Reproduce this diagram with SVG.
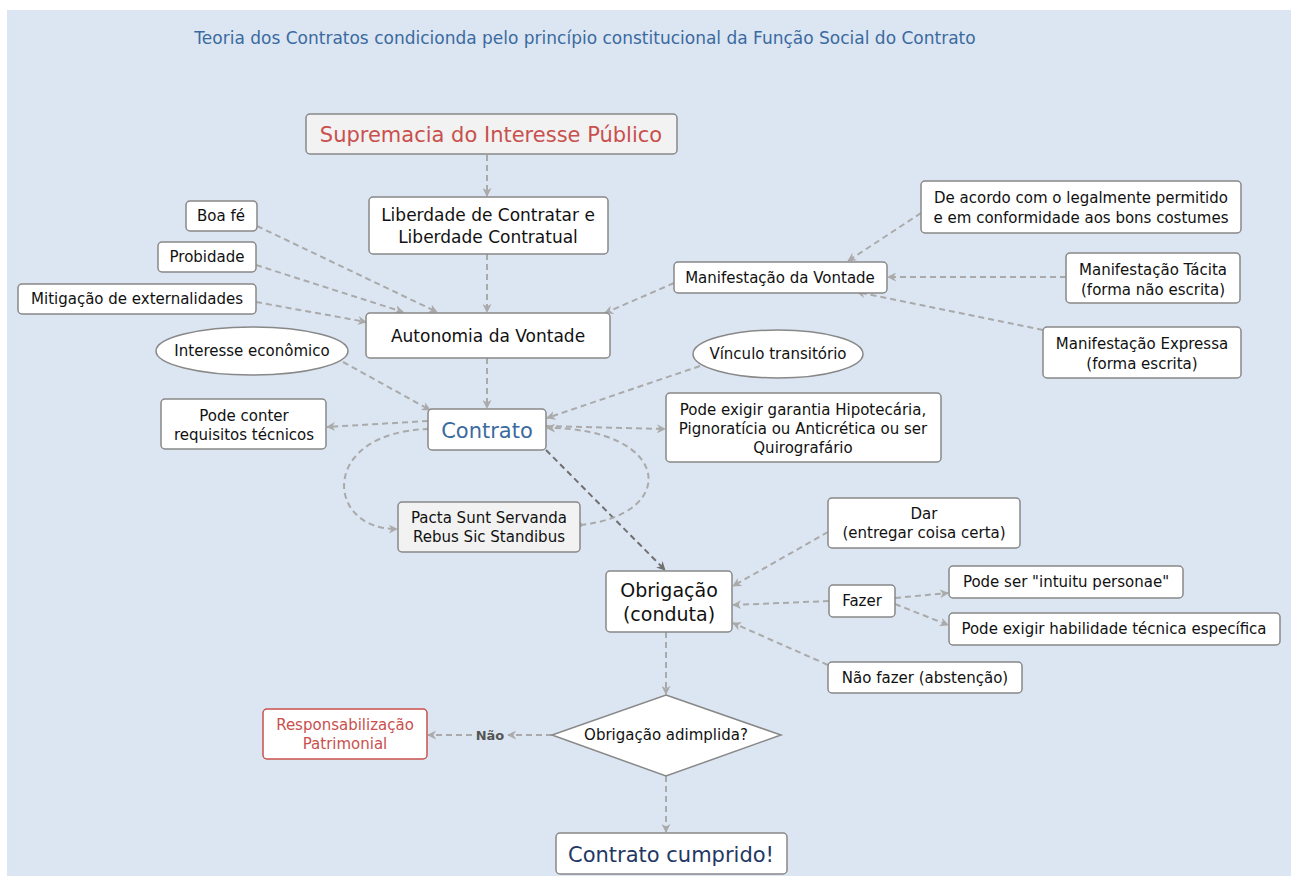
<svg xmlns="http://www.w3.org/2000/svg" width="1291" height="876" viewBox="0 0 1291 876">
<defs>
<marker id="ah" viewBox="0 0 10 10" refX="9" refY="5" markerWidth="9" markerHeight="9" markerUnits="userSpaceOnUse" orient="auto">
<path d="M0,0 L10,5 L0,10 L3,5 z" fill="#aaaaaa"/>
</marker>
<marker id="ahd" viewBox="0 0 10 10" refX="9" refY="5" markerWidth="9" markerHeight="9" markerUnits="userSpaceOnUse" orient="auto">
<path d="M0,0 L10,5 L0,10 L3,5 z" fill="#707070"/>
</marker>
<marker id="dot" viewBox="0 0 10 10" refX="5" refY="5" markerWidth="6" markerHeight="6" markerUnits="userSpaceOnUse">
<circle cx="5" cy="5" r="4" fill="#aaaaaa"/>
</marker>
<style>
text{font-family:"DejaVu Sans",Verdana,sans-serif;text-anchor:middle;fill:#111}
.n{fill:#fff;stroke:#888;stroke-width:1.5}
.g{fill:#f2f2f2;stroke:#888;stroke-width:1.5}
.e{stroke:#aaaaaa;stroke-width:2;stroke-dasharray:6,4;fill:none;marker-end:url(#ah)}
.t15{font-size:15px}
.t17{font-size:17px}
</style>
</defs>
<rect x="7" y="10" width="1284" height="866" fill="#dce6f2"/>
<text x="585" y="44" style="font-size:17px;fill:#3a6aa0">Teoria dos Contratos condicionda pelo princípio constitucional da Função Social do Contrato</text>

<g id="connectors">
<path class="e" d="M487,155 L487,196"/>
<path class="e" d="M487,254 L487,312"/>
<path class="e" d="M257,226 L437,312"/>
<path class="e" d="M256,265 L403,312"/>
<path class="e" d="M256,302 L366,322"/>
<path class="e" d="M674,283 L605,313"/>
<path class="e" d="M921,213 L848,261"/>
<path class="e" d="M1066,277 L888,277"/>
<path class="e" d="M1043,330 L857,292"/>
<path class="e" d="M487,358 L487,408"/>
<path class="e" d="M343,362 L430,410"/>
<path class="e" d="M700,366 L547,418"/>
<path class="e" d="M428,421 L327,427"/>
<path class="e" d="M546,426 L665,429"/>
<path d="M546,450 L665,570" style="stroke:#707070;stroke-width:2;stroke-dasharray:6,4;fill:none;marker-end:url(#ahd)"/>
<path class="e" style="marker-start:url(#dot)" d="M429,429 C 318,432 325,530 397,529"/>
<path class="e" style="marker-start:url(#dot)" d="M580,525 C 680,515 672,428 547,428"/>
<path class="e" d="M828,532 L733,586"/>
<path class="e" d="M829,601 L733,605"/>
<path class="e" d="M895,598 L948,593"/>
<path class="e" d="M895,604 L948,625"/>
<path class="e" d="M828,665 L733,623"/>
<path class="e" d="M666,632 L666,694"/>
<path class="e" d="M552,735 L508,735"/>
<path class="e" d="M472,735 L428,735"/>
<text x="490" y="740" style="font-size:13px;font-weight:bold;fill:#555">Não</text>
<path class="e" d="M666,776 L666,832"/>
</g>

<g id="supremacia"><rect class="g" x="306" y="114" width="371" height="40" rx="4"/><text x="491" y="142" style="font-size:21px;fill:#c9504d">Supremacia do Interesse Público</text></g>
<g id="liberdade"><rect class="n" x="369" y="197" width="239" height="57" rx="4"/><text x="488" y="221" class="t17">Liberdade de Contratar e</text><text x="488" y="243" class="t17">Liberdade Contratual</text></g>
<g id="boafe"><rect class="n" x="186" y="201" width="71" height="30" rx="4"/><text x="221" y="221" class="t15">Boa fé</text></g>
<g id="probidade"><rect class="n" x="158" y="242" width="98" height="30" rx="4"/><text x="207" y="262" class="t15">Probidade</text></g>
<g id="mitigacao"><rect class="n" x="18" y="284" width="238" height="30" rx="4"/><text x="137" y="304" class="t15">Mitigação de externalidades</text></g>
<g id="autonomia"><rect class="n" x="366" y="313" width="244" height="45" rx="4"/><text x="488" y="342" class="t17">Autonomia da Vontade</text></g>
<g id="interesse"><ellipse class="n" cx="252" cy="351" rx="96" ry="24"/><text x="252" y="356" class="t15">Interesse econômico</text></g>
<g id="manifestacao"><rect class="n" x="674" y="262" width="213" height="31" rx="4"/><text x="780" y="283" class="t15">Manifestação da Vontade</text></g>
<g id="deacordo"><rect class="n" x="921" y="181" width="320" height="52" rx="4"/><text x="1081" y="203" class="t15">De acordo com o legalmente permitido</text><text x="1081" y="223" class="t15">e em conformidade aos bons costumes</text></g>
<g id="tacita"><rect class="n" x="1066" y="253" width="174" height="50" rx="4"/><text x="1153" y="275" class="t15">Manifestação Tácita</text><text x="1153" y="295" class="t15">(forma não escrita)</text></g>
<g id="expressa"><rect class="n" x="1043" y="327" width="198" height="51" rx="4"/><text x="1142" y="349" class="t15">Manifestação Expressa</text><text x="1142" y="369" class="t15">(forma escrita)</text></g>
<g id="vinculo"><ellipse class="n" cx="778" cy="354" rx="85" ry="24"/><text x="778" y="359" class="t15">Vínculo transitório</text></g>
<g id="podeconter"><rect class="n" x="161" y="399" width="165" height="50" rx="4"/><text x="244" y="421" class="t15">Pode conter</text><text x="244" y="440" class="t15">requisitos técnicos</text></g>
<g id="contrato"><rect class="n" x="428" y="409" width="118" height="41" rx="4"/><text x="487" y="438" style="font-size:21px;fill:#3a6aa0">Contrato</text></g>
<g id="garantia"><rect class="n" x="666" y="393" width="275" height="69" rx="4"/><text x="803" y="415" class="t15">Pode exigir garantia Hipotecária,</text><text x="803" y="434" class="t15">Pignoratícia ou Anticrética ou ser</text><text x="803" y="453" class="t15">Quirografário</text></g>
<g id="pacta"><rect class="g" x="398" y="502" width="182" height="50" rx="4"/><text x="489" y="523" class="t15">Pacta Sunt Servanda</text><text x="489" y="542" class="t15">Rebus Sic Standibus</text></g>
<g id="dar"><rect class="n" x="828" y="498" width="192" height="50" rx="4"/><text x="924" y="519" class="t15">Dar</text><text x="924" y="538" class="t15">(entregar coisa certa)</text></g>
<g id="obrigacao"><rect class="n" x="606" y="571" width="126" height="61" rx="4"/><text x="669" y="597" style="font-size:19px">Obrigação</text><text x="669" y="621" style="font-size:19px">(conduta)</text></g>
<g id="fazer"><rect class="n" x="829" y="585" width="66" height="32" rx="4"/><text x="862" y="606" class="t15">Fazer</text></g>
<g id="intuitu"><rect class="n" x="949" y="566" width="234" height="32" rx="4"/><text x="1066" y="587" class="t15">Pode ser "intuitu personae"</text></g>
<g id="habilidade"><rect class="n" x="949" y="613" width="331" height="32" rx="4"/><text x="1114" y="634" class="t15">Pode exigir habilidade técnica específica</text></g>
<g id="naofazer"><rect class="n" x="828" y="662" width="194" height="31" rx="4"/><text x="925" y="683" class="t15">Não fazer (abstenção)</text></g>
<g id="adimplida"><polygon class="n" points="666,695 781,735 666,776 552,735"/><text x="666" y="740" class="t15">Obrigação adimplida?</text></g>
<g id="responsabilizacao"><rect x="263" y="709" width="164" height="50" rx="4" style="fill:#fff;stroke:#c9504d;stroke-width:1.5"/><text x="345" y="730" style="font-size:15px;fill:#c9504d">Responsabilização</text><text x="345" y="749" style="font-size:15px;fill:#c9504d">Patrimonial</text></g>
<g id="cumprido"><rect class="n" x="556" y="833" width="231" height="41" rx="4"/><text x="671" y="862" style="font-size:21px;fill:#1f3864">Contrato cumprido!</text></g>
</svg>
